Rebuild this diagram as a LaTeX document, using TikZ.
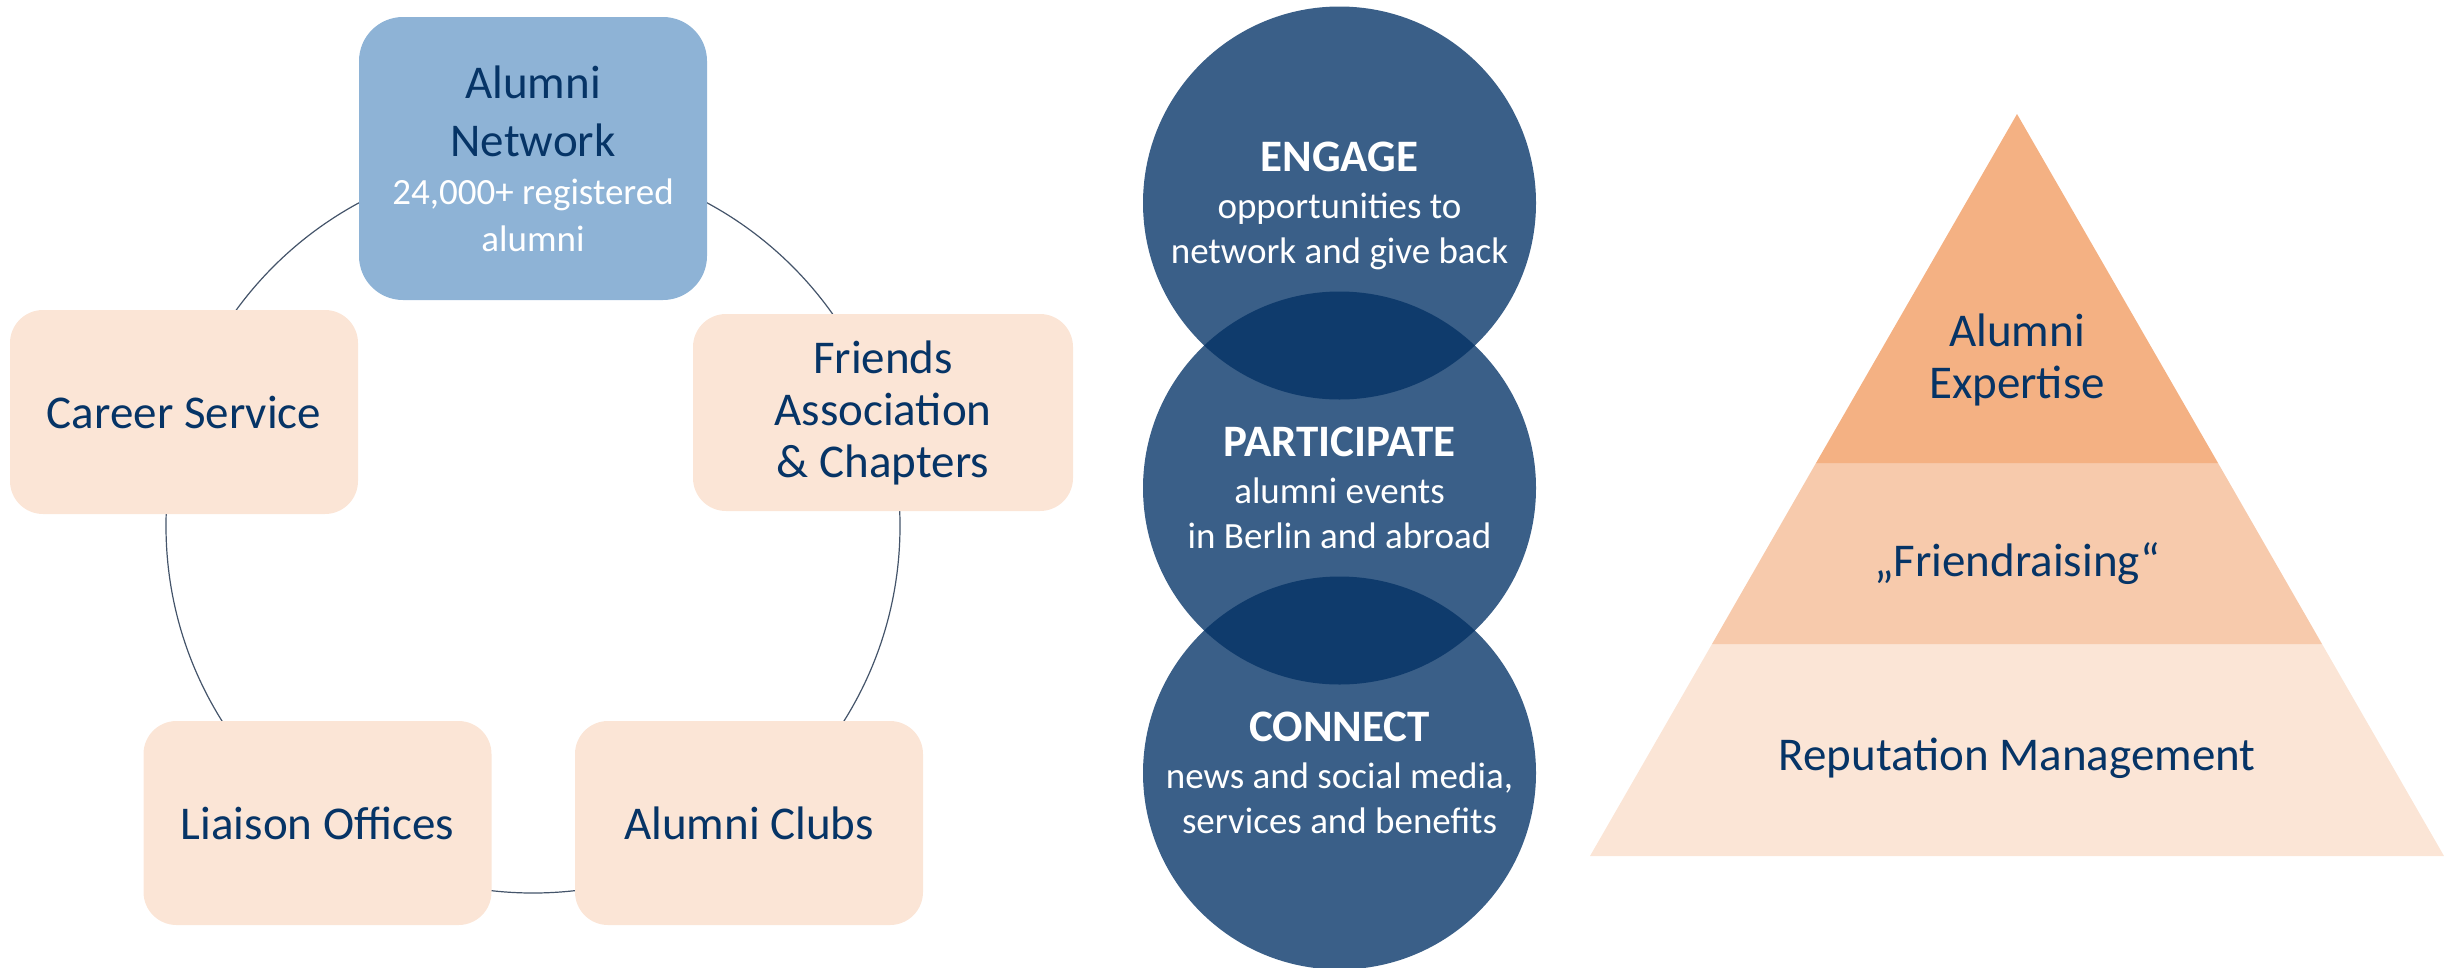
\documentclass[tikz,border=0pt]{standalone}
\usepackage{fontspec}
\setmainfont{Carlito}
\usepackage{xcolor}
\usetikzlibrary{positioning}
\definecolor{NavyText}{HTML}{063466}
\definecolor{HubBlue}{HTML}{8EB3D6}
\definecolor{PeachLight}{HTML}{FBE5D6}
\definecolor{PeachMid}{HTML}{F7CAAC}
\definecolor{PeachDark}{HTML}{F4B183}
\definecolor{StageBlue}{HTML}{3A5F88}
\definecolor{StageDeep}{HTML}{0F3B6C}
\definecolor{RingGray}{HTML}{44546A}
\newcommand{\stagehead}[1]{{\fontsize{45}{47}\selectfont\bfseries #1}}
\newcommand{\hubnote}[1]{{\fontsize{37}{47}\selectfont\color{white}#1}}

\tikzset{
  partnerbox/.style={fill=PeachLight, rounded corners=33pt, minimum width=348pt, minimum height=204pt, inner sep=0pt, text=NavyText, font=\fontsize{47}{52}\selectfont},
  hubbox/.style={fill=HubBlue, rounded corners=44pt, minimum width=348pt, minimum height=283pt, inner sep=0pt, text=NavyText, font=\fontsize{47}{58}\selectfont},
  stagecircle/.style={circle, fill=StageBlue, minimum size=393pt, inner sep=0pt, text=white, text depth=0pt, font=\fontsize{37}{45}\selectfont},
  layertext/.style={text=NavyText, font=\fontsize{47}{52}\selectfont},
  ring/.style={draw=RingGray, line width=1.2pt}
}

\begin{document}
\begin{tikzpicture}[x=1pt, y=-1pt, every node/.style={align=center}]
  \useasboundingbox (0,0) rectangle (2459,967);
  % Network ring
  \draw[ring] (533,526) circle (367pt);
  \node[hubbox] (network) at (533,158.5) {Alumni\\Network\\[-10pt]\hubnote{24,000+ registered}\\[-11pt]\hubnote{alumni}};
  \node[partnerbox] (career) at (184,412) {Career Service};
  \node[partnerbox, minimum width=380pt, minimum height=197pt] (friends) at (883,412.5) {Friends\\Association\\\& Chapters};
  \node[partnerbox] (liaison) at (317.5,823) {Liaison Offices};
  \node[partnerbox] (clubs) at (749,823) {Alumni Clubs};

  % Stages
  \node[stagecircle] (engage) at (1339.5,203) {\stagehead{ENGAGE}\\[2pt]opportunities to\\network and give back};
  \node[stagecircle] (participate) at (1339.5,488) {\stagehead{PARTICIPATE}\\[2pt]alumni events\\in Berlin and abroad};
  \node[stagecircle] (connect) at (1339.5,773) {\stagehead{CONNECT}\\[2pt]news and social media,\\services and benefits};
  \begin{scope}
    \clip (engage.center) circle (196.5pt);
    \fill[StageDeep] (participate.center) circle (196.5pt);
  \end{scope}
  \begin{scope}
    \clip (participate.center) circle (196.5pt);
    \fill[StageDeep] (connect.center) circle (196.5pt);
  \end{scope}

  % Pyramid
  \fill[PeachLight] (1712,644) -- (2322,644) -- (2444,856) -- (1590,856) -- cycle;
  \fill[PeachMid] (1816,463) -- (2218,463) -- (2322,644) -- (1712,644) -- cycle;
  \fill[PeachDark] (2017,114) -- (2218,463) -- (1816,463) -- cycle;
  \node[layertext] (expertise) at (2017,360) {Alumni\\Expertise};
  \node[layertext] (friendraising) at (2017,564) {„Friendraising“};
  \node[layertext] (reputation) at (2017,758) {Reputation Management};
\end{tikzpicture}
\end{document}
